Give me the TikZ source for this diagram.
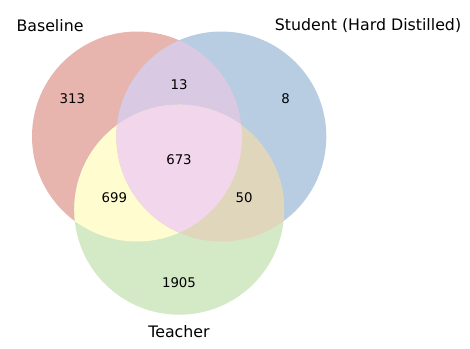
\documentclass[tikz,border=0pt]{standalone}
\usepackage{fontspec}
\setmainfont{DejaVu Sans}
\definecolor{baseonly}{HTML}{E8B4AE}
\definecolor{studonly}{HTML}{B8CCE2}
\definecolor{teachonly}{HTML}{D4E9C6}
\definecolor{basestud}{HTML}{D9C9E2}
\definecolor{baseteach}{HTML}{FFFDCF}
\definecolor{studteach}{HTML}{E0D6BC}
\definecolor{allthree}{HTML}{F2D6EC}
\begin{document}
\begin{tikzpicture}[
    x=1pt,
    y=-1pt,
    setname/.style={font=\fontsize{15.8}{18}\selectfont},
    count/.style={font=\fontsize{13.3}{16}\selectfont},
  ]

  \useasboundingbox (0,0) rectangle (470,348);

  % === Set circles ===
  \def\circBase{(137,136.5) circle [radius=105pt]}
  \def\circStud{(221.3,136.5) circle [radius=105pt]}
  \def\circTeach{(179.2,209.7) circle [radius=105pt]}

  % Single-set areas
  \fill[baseonly] \circBase;
  \fill[studonly] \circStud;
  \fill[teachonly] \circTeach;

  % Pairwise overlaps
  \begin{scope}
    \clip \circBase;
    \fill[basestud] \circStud;
  \end{scope}
  \begin{scope}
    \clip \circBase;
    \fill[baseteach] \circTeach;
  \end{scope}
  \begin{scope}
    \clip \circStud;
    \fill[studteach] \circTeach;
  \end{scope}

  % Triple overlap
  \begin{scope}
    \clip \circBase;
    \clip \circStud;
    \fill[allthree] \circTeach;
  \end{scope}

  % === Set names ===
  \node[setname] (baseline) at (50,25.7) {Baseline};
  \node[setname] (student) at (368,25.7) {Student (Hard Distilled)};
  \node[setname] (teacher) at (179,331.7) {Teacher};

  % === Region counts ===
  \node[count] (onlybase) at (72.3,98.3) {313};
  \node[count] (basestudn) at (179,85) {13};
  \node[count] (onlystud) at (285.7,98.3) {8};
  \node[count] (alln) at (179,160) {673};
  \node[count] (baseteachn) at (114.3,197.3) {699};
  \node[count] (studteachn) at (244,197.3) {50};
  \node[count] (onlyteach) at (179,283) {1905};

\end{tikzpicture}
\end{document}
